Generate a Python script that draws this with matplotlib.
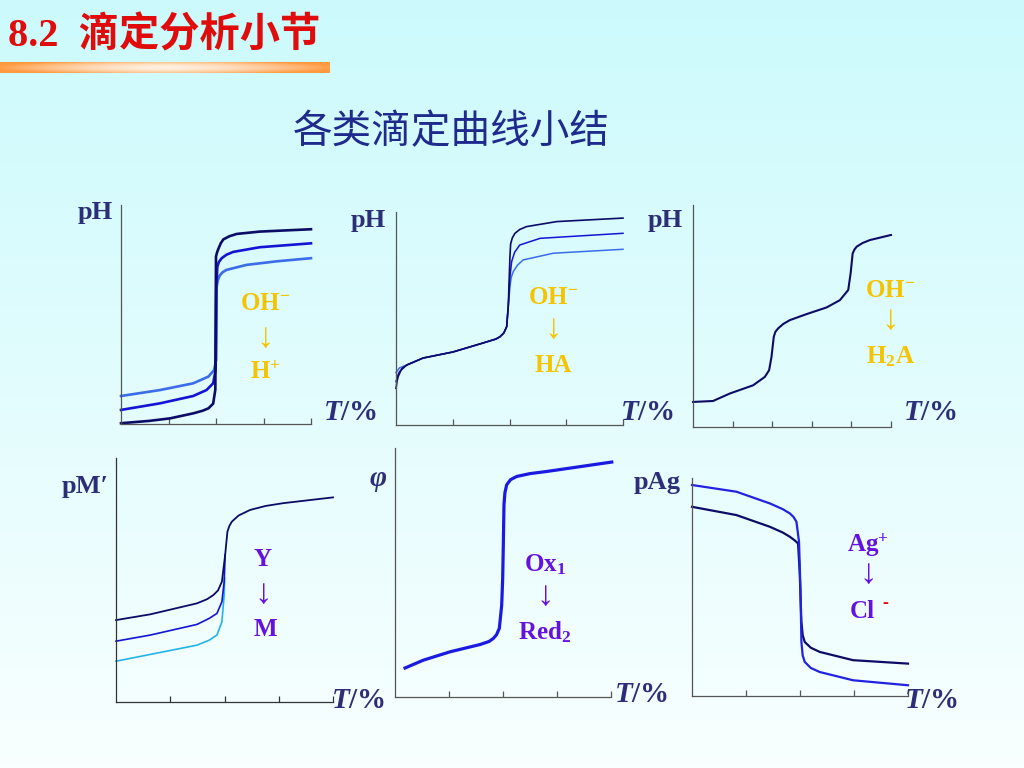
import numpy as np
import matplotlib.pyplot as plt

plt.rcParams['mathtext.fontset'] = 'custom'
plt.rcParams['mathtext.rm'] = 'Liberation Serif:bold'
plt.rcParams['mathtext.bf'] = 'Liberation Serif:bold'
plt.rcParams['mathtext.it'] = 'Liberation Serif:italic:bold'

W, H = 1024, 768

# ---- panel 1: strong acid (H+) titrated with OH-, three concentrations
p1_T_dark = [0, 30, 51.6, 76, 86, 92, 97, 99.3, 100, 101, 102.5, 105, 107.7, 114, 121.8, 146, 200]
p1_y_dark = [0.05, 0.2, 0.36, 0.68, 0.85, 1.0, 1.3, 2.2, 10.7, 10.95, 11.2, 11.55, 11.8, 12.0, 12.15, 12.3, 12.45]
p1_T_mid = [0, 41, 76, 90, 97, 99.6, 100.3, 101.4, 103, 106, 111, 118, 146, 200]
p1_y_mid = [0.9, 1.32, 1.79, 2.17, 2.6, 3.45, 8.57, 10.06, 10.35, 10.6, 10.82, 11.0, 11.3, 11.55]
p1_T_light = [0, 41, 76, 92, 98, 100.2, 100.7, 102, 104, 107, 111, 132, 164, 200]
p1_y_light = [1.79, 2.17, 2.6, 3.03, 3.45, 4.1, 8.78, 9.2, 9.5, 9.7, 9.85, 10.17, 10.4, 10.6]

# ---- panel 2: weak acid HA
p2_T_common = [9.4, 23.8, 50.2, 76.7, 88, 91.6, 95, 97.5, 98.9]
p2_y_common = [3.94, 4.4, 4.8, 5.39, 5.65, 5.8, 6.05, 6.46, 7.78]
p2_T_dark = [0, 1, 2, 5] + p2_T_common + [100.4, 101, 102.5, 104.8, 109, 115, 141.6, 200]
p2_y_dark = [2.41, 2.9, 3.2, 3.7] + p2_y_common + [11.07, 11.9, 12.3, 12.6, 12.85, 13.04, 13.37, 13.6]
p2_T_mid = [0, 1.5, 3] + p2_T_common + [100.4, 101.9, 104.5, 109, 127, 200]
p2_y_mid = [2.85, 3.25, 3.5] + p2_y_common + [9.75, 10.74, 11.35, 11.83, 12.27, 12.6]
p2_T_light = [0, 3] + p2_T_common + [100.4, 101.5, 103.3, 107, 112, 138.6, 200]
p2_y_light = [3.44, 3.75] + p2_y_common + [9.09, 9.7, 10.08, 10.5, 10.85, 11.29, 11.55]

# ---- panel 3: diprotic acid H2A
p3_T = [0, 25.3, 46.4, 75.9, 90.7, 96.1, 99.1, 102, 104, 107.5, 114, 122.3, 143.4, 168.7,
        185.5, 196, 199, 201.6, 204, 206.6, 214, 223.4, 250]
p3_y = [1.58, 1.64, 2.11, 2.63, 3.16, 3.58, 4.42, 5.69, 6.0, 6.22, 6.5, 6.74, 7.12, 7.54,
        8.0, 8.64, 9.69, 10.95, 11.2, 11.37, 11.6, 11.79, 12.11]

# ---- panel 4: complexometric (Y -> M)
p4_T_top = [100.6, 102.7, 104.5, 106.8, 113, 123.6, 138, 154.3, 200]
p4_y_top = [8.44, 9.78, 10.1, 10.35, 10.7, 11.02, 11.25, 11.41, 11.74]
p4_T_dark = [0, 31.6, 74.6, 84, 89.8, 94, 97.6] + p4_T_top
p4_y_dark = [4.7, 5.03, 5.66, 5.9, 6.14, 6.4, 6.9] + p4_y_top
p4_T_mid = [0, 31.6, 74.6, 86, 93, 97.6, 99.7, 100.6]
p4_y_mid = [3.49, 3.84, 4.45, 4.8, 5.08, 5.75, 6.9, 8.44]
p4_T_light = [0, 31.6, 74.6, 86, 93, 97.6, 99.7, 100.1]
p4_y_light = [2.34, 2.73, 3.26, 3.55, 3.84, 4.6, 6.14, 7.1]

# ---- panel 5: redox (Ox1 -> Red2)
p5_T = [9.3, 26.2, 50.9, 78.7, 87, 91, 94, 96.6, 98.8, 99.7, 100.3, 100.9, 101.8,
        103.4, 107, 112.7, 125, 140.5, 200.7]
p5_y = [1.63, 2.07, 2.54, 2.95, 3.12, 3.29, 3.5, 3.86, 5.17, 6.67, 8.55, 10.81, 11.5,
        11.93, 12.22, 12.4, 12.56, 12.68, 13.21]

# ---- panel 6: precipitation (Ag+ -> Cl-)
p6_T_blue = [0, 41.1, 72, 84, 90.5, 94, 96.7, 99.1, 100.4, 101.3, 102.5, 104.4, 110, 118.3, 149.1, 200]
p6_y_blue = [13.55, 13.12, 12.37, 12.0, 11.73, 11.5, 11.19, 9.9, 6.93, 3.47, 2.6, 2.19, 1.8, 1.54, 1.01, 0.69]
p6_T_dark = [0, 41.1, 72, 84, 90.5, 95, 98.2, 99.7, 101.3, 102.5, 104.4, 110, 118.3, 149.1, 200]
p6_y_dark = [12.15, 11.62, 10.87, 10.5, 10.23, 10.0, 9.8, 7.97, 4.76, 3.9, 3.47, 3.1, 2.83, 2.3, 2.08]

NAVY = "#0c0c66"
BLUE = "#1414d4"
LIGHT = "#3c6ce8"
CYAN = "#22b4e6"
TXT = "#2c2f78"
GOLD = "#f5c400"
PURPLE = "#6412e0"

fig = plt.figure(figsize=(10.24, 7.68), dpi=100)

# background gradient
bg = fig.add_axes([0, 0, 1, 1], zorder=-10)
grad = np.linspace(0, 1, 256)[:, None]
top_c = np.array([0.80, 0.98, 0.99])
bot_c = np.array([0.975, 1.0, 1.0])
img = top_c[None, None, :] * (1 - grad[..., None]) + bot_c[None, None, :] * grad[..., None]
bg.imshow(np.repeat(img, 2, axis=1), aspect="auto", extent=[0, 1, 0, 1])
bg.set_axis_off()

# orange bar under the title (orange ends, pale centre)
bar = fig.add_axes([0 / W, 1 - 73 / H, 330 / W, 11 / H], zorder=-5)
u = np.linspace(-1, 1, 300)
v = np.linspace(-1, 1, 20)
U, V = np.meshgrid(u, v)
t = np.clip(np.abs(U) ** 1.6 * 0.85 + 0.45 * V ** 2 + 0.08, 0, 1)
orange = np.array([1.0, 0.6, 0.25])
white = np.array([1.0, 0.97, 0.93])
bar.imshow(white[None, None, :] * (1 - t[..., None]) + orange[None, None, :] * t[..., None],
           aspect="auto", extent=[0, 1, 0, 1])
bar.set_axis_off()


def px_axes(left, top, right, bottom):
    return fig.add_axes([left / W, 1 - bottom / H, (right - left) / W, (bottom - top) / H])


def style(ax, xmax, ticks, axcol="#555555"):
    ax.set_facecolor("none")
    ax.set_xlim(0, xmax)
    ax.set_ylim(0, 14)
    for s in ["top", "right"]:
        ax.spines[s].set_visible(False)
    for s in ["left", "bottom"]:
        ax.spines[s].set_color(axcol)
        ax.spines[s].set_linewidth(0.9)
    ax.set_xticks(ticks)
    ax.set_xticklabels([])
    ax.set_yticks([])
    ax.tick_params(axis="x", direction="in", length=4, color=axcol, width=0.9)


def ftext(x, y, s, **kw):
    fig.text(x / W, 1 - y / H, s, ha="center", va="center", **kw)


serif = ["Liberation Serif", "DejaVu Serif"]

ax1 = px_axes(121, 205, 311, 424)
style(ax1, 200, [50, 100, 150, 200])
ax1.plot(p1_T_light, p1_y_light, color=LIGHT, lw=1.9, clip_on=False)
ax1.plot(p1_T_mid, p1_y_mid, color=BLUE, lw=1.9, clip_on=False)
ax1.plot(p1_T_dark, p1_y_dark, color=NAVY, lw=1.9, clip_on=False)

ax2 = px_axes(396, 212, 623, 425)
style(ax2, 200, [50, 100, 150, 200])
ax2.plot(p2_T_light, p2_y_light, color=LIGHT, lw=1.1, clip_on=False)
ax2.plot(p2_T_mid, p2_y_mid, color=BLUE, lw=1.1, clip_on=False)
ax2.plot(p2_T_dark, p2_y_dark, color=NAVY, lw=1.2, clip_on=False)

ax3 = px_axes(693, 205, 891, 427)
style(ax3, 250, [50, 100, 150, 200, 250])
ax3.plot(p3_T, p3_y, color=NAVY, lw=1.5, clip_on=False)

ax4 = px_axes(116, 458, 333, 702)
style(ax4, 200, [50, 100, 150, 200], axcol="#333333")
ax4.plot(p4_T_light, p4_y_light, color=CYAN, lw=1.2, clip_on=False)
ax4.plot(p4_T_mid, p4_y_mid, color=BLUE, lw=1.2, clip_on=False)
ax4.plot(p4_T_dark, p4_y_dark, color=NAVY, lw=1.3, clip_on=False)

ax5 = px_axes(395, 448, 611, 697)
style(ax5, 200, [50, 100, 150, 200])
ax5.plot(p5_T, p5_y, color="#1a1ae0", lw=2.3, clip_on=False)

ax6 = px_axes(692, 478, 908, 696)
style(ax6, 200, [50, 100, 150, 200])
ax6.plot(p6_T_dark, p6_y_dark, color=NAVY, lw=1.6, clip_on=False)
ax6.plot(p6_T_blue, p6_y_blue, color="#2222e0", lw=1.6, clip_on=False)

# titles
fig.text(8 / W, 1 - 36 / H, "8.2  滴定分析小节", ha="left", va="center",
         color="#e00c0c", fontsize=29, fontweight="bold",
         family=["Liberation Serif", "Noto Sans CJK SC"])
ftext(451, 132, "各类滴定曲线小结", color="#1e2a8c", fontsize=28.5,
      family=["Noto Sans CJK SC"])

# axis labels
lab = dict(color=TXT, fontsize=19, fontweight="bold", family=serif)
ftext(95, 213, "pH", **lab)
ftext(368, 220, "pH", **lab)
ftext(665, 220, "pH", **lab)
ftext(85, 486, "pM\u2032", **lab)
ftext(378, 481, r"$\varphi$", color=TXT, fontsize=21, family=serif)
ftext(657, 483, "pAg", **lab)
tl = dict(color=TXT, fontsize=21, fontweight="bold", family=serif)
for x, y in [(350, 412), (647, 412), (930, 413), (358, 700), (641, 694), (931, 700)]:
    ftext(x, y, r"$T$/%", **tl)

# reaction annotations
arrow = dict(fontsize=25, family=serif)
gl = dict(color=GOLD, fontsize=18, fontweight="bold", family=serif)
ftext(265, 303, r"OH$^{-}$", **gl)
ftext(265, 338, "\u2193", color=GOLD, **arrow)
ftext(265, 373, r"H$^{+}$", **gl)
ftext(553, 297, r"OH$^{-}$", **gl)
ftext(553, 329, "\u2193", color=GOLD, **arrow)
ftext(553, 365, "HA", **gl)
ftext(890, 290, r"OH$^{-}$", **gl)
ftext(890, 321, "\u2193", color=GOLD, **arrow)
ftext(890, 357, r"H$_{2}$A", **gl)

pl = dict(color=PURPLE, fontsize=18, fontweight="bold", family=serif)
ftext(263, 560, "Y", **pl)
ftext(263, 594, "\u2193", color=PURPLE, **arrow)
ftext(265, 630, "M", **pl)
ftext(545, 565, r"Ox$_{1}$", **pl)
ftext(545, 596, "\u2193", color=PURPLE, **arrow)
ftext(545, 632, r"Red$_{2}$", **pl)
ftext(868, 545, r"Ag$^{+}$", **pl)
ftext(868, 575, "\u2193", color=PURPLE, **arrow)
ftext(862, 612, "Cl", **pl)
ftext(885, 603, "-", color="#e00c0c", fontsize=13, fontweight="bold", family=serif)

fig.savefig("out.png", dpi=100)
